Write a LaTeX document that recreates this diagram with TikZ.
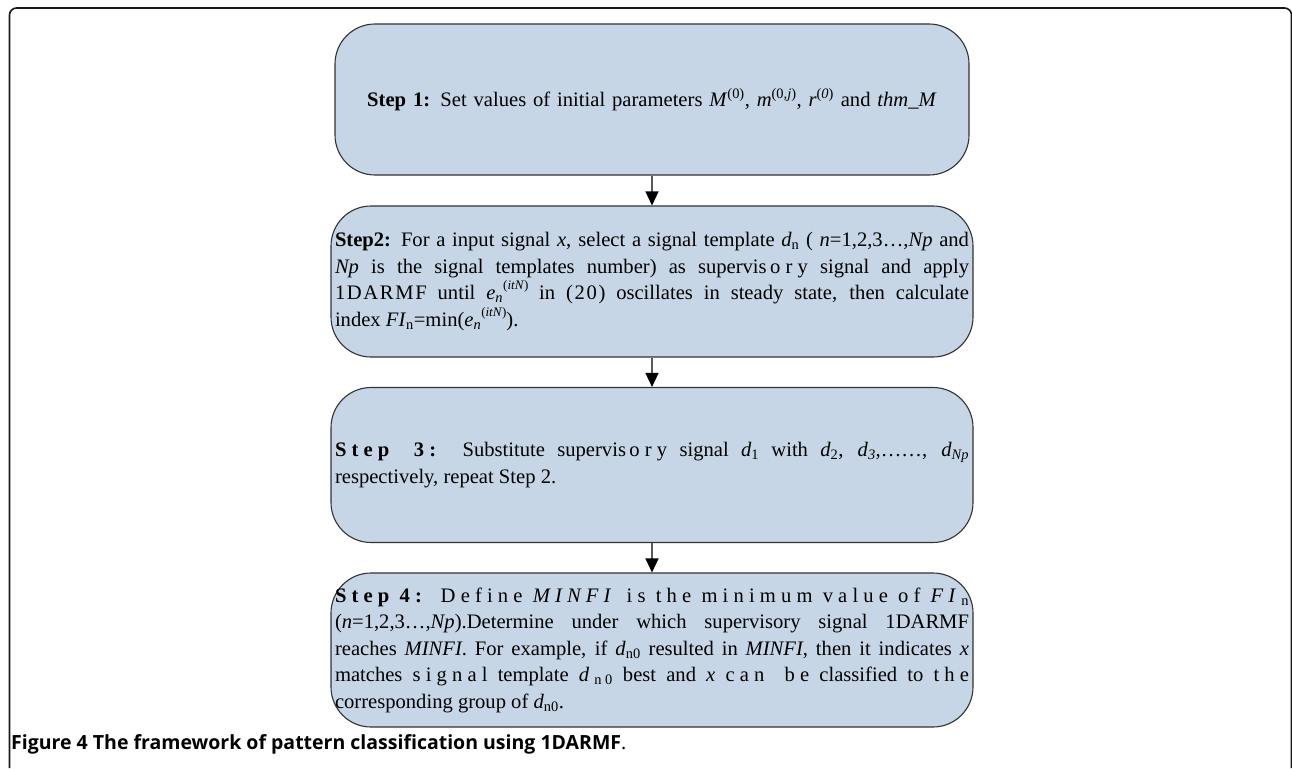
\documentclass[tikz,border=0pt]{standalone}
\usepackage{fontspec}
\setmainfont{Liberation Serif}
\newfontfamily\capfont{Open Sans}
\usetikzlibrary{arrows.meta}
\definecolor{boxblue}{RGB}{198,214,231}
\newcommand\lsp[1]{{\addfontfeature{LetterSpace=25}#1}}
\newcommand\lspb[1]{{\addfontfeature{LetterSpace=8}#1}}
\newcommand\enitn{\textit{e}\textsubscript{\textit{n}}\raisebox{1.05ex}{\fontsize{13}{13}\selectfont(\textit{itN})}}
\begin{document}
\begin{tikzpicture}[x=1pt,y=-1pt,
  stepbox/.style={draw=black!80, line width=1.1pt, fill=boxblue, rounded corners=40pt,
    inner ysep=0pt, inner xsep=4pt, font=\fontsize{20.6}{26.5}\selectfont,
    text width=634pt, align=justify, minimum width=642pt},
  flow/.style={draw=black!65, line width=1.3pt, -{Triangle[length=14pt,width=13pt,color=black]}},
  frame/.style={draw=black!90, line width=1.6pt, rounded corners=7pt}]
\useasboundingbox (0,0) rectangle (1292,768);
\draw[frame] (9.5,768) -- (9.5,8) -- (1291.5,8) -- (1291.5,768);

\node[stepbox, align=center, text width=626pt, minimum width=634pt, minimum height=151pt] (s1) at (652,99.5)
  {\textbf{Step 1:} Set values of initial parameters \textit{M}\textsuperscript{(0)}, \textit{m}\textsuperscript{(0,\textit{j})}, \textit{r}\textsuperscript{(\textit{0})} and \textit{thm\_M}};

\node[stepbox, minimum height=151pt] (s2) at (652,281.5)
  {\textbf{Step2:} For a input signal \textit{x}, select a signal template \textit{d}\textsubscript{n} ( \textit{n}=1,2,3\lspb{\ldots},\textit{Np} and\linebreak
   \textit{Np} is the signal templates number) as supervis\,\lsp{ory} signal and apply\linebreak
   \lspb{1DARMF} until \enitn{} in \lspb{(20)} oscillates in steady state, then calculate\linebreak
   index \textit{FI}\textsubscript{n}=min(\enitn).};

\node[stepbox, minimum height=155pt] (s3) at (652,465)
  {\lsp{\textbf{Step 3:}} Substitute supervis\,\lsp{ory} signal \textit{d}\textsubscript{1} with \textit{d}\textsubscript{2}, \textit{d}\textsubscript{\textit{3}},\ldots\ldots, \textit{d}\textsubscript{\textit{Np}}\linebreak
   respectively, repeat Step 2.};

\node[stepbox, minimum height=154pt] (s4) at (652,650)
  {\lsp{\textbf{Step 4:} Define \textit{MINFI} is the minimum value of \textit{FI}}\textsubscript{n}\linebreak
   (\textit{n}=1,2,3\ldots,\textit{Np}).Determine under which supervisory signal 1DARMF\linebreak
   reaches \textit{MINFI}. For example, if \textit{d}\textsubscript{n0} resulted in \textit{MINFI}, then it indicates \textit{x}\linebreak
   matches \lsp{signal} template \lsp{\textit{d}\textsubscript{n0}} best and \textit{x} \lsp{can be} classified to \lsp{the}\linebreak
   corresponding group of \textit{d}\textsubscript{n0}.};

\draw[flow] (s1.south) -- (s2.north);
\draw[flow] (s2.south) -- (s3.north);
\draw[flow] (s3.south) -- (s4.north);

\node[anchor=base west, inner sep=0pt, font=\capfont\bfseries\fontsize{19.5}{22}\selectfont] (cap) at (11,749)
  {Figure 4 The framework of pattern classification using 1DARMF{\mdseries.}};
\end{tikzpicture}
\end{document}
